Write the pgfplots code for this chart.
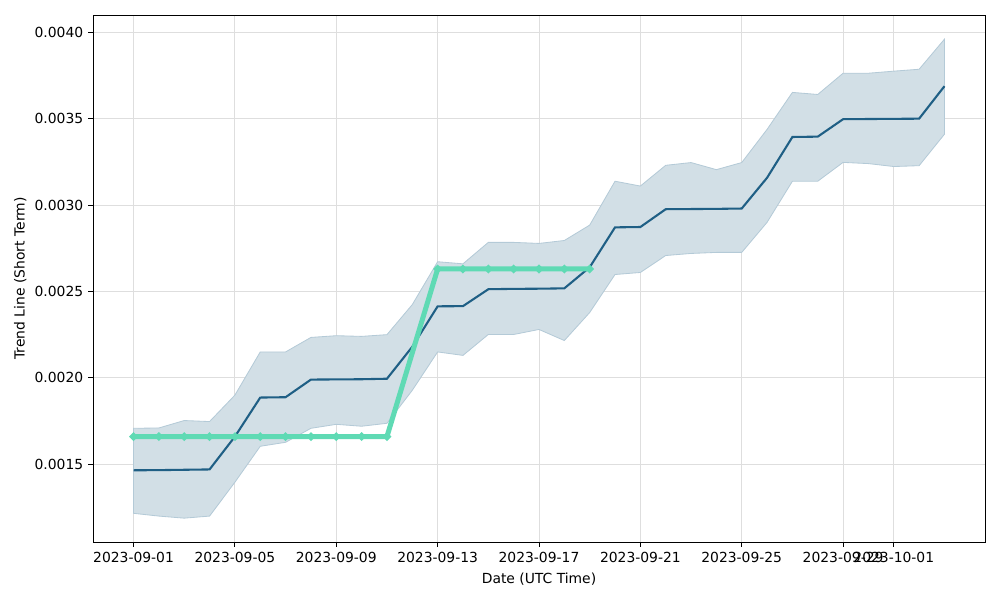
\documentclass[border=0pt]{standalone}
\usepackage{pgfplots}
\pgfplotsset{compat=1.18}
\usepackage{pgfplotstable}
\usepackage{fontspec}
\setmainfont{DejaVu Sans}
\definecolor{trend}{RGB}{31,95,133}
\definecolor{band}{RGB}{210,223,230}
\definecolor{bandedge}{RGB}{180,202,215}
\definecolor{tgreen}{RGB}{95,218,180}
\definecolor{gridc}{RGB}{222,222,222}

\pgfplotstableread{
d mid
0 0.001465
1 0.001466
2 0.001468
3 0.001470
4 0.001660
5 0.001886
6 0.001888
7 0.001990
8 0.001991
9 0.001992
10 0.001995
11 0.002180
12 0.002414
13 0.002415
14 0.002513
15 0.002515
16 0.002516
17 0.002518
18 0.002640
19 0.002871
20 0.002873
21 0.002976
22 0.002977
23 0.002978
24 0.002980
25 0.003158
26 0.003394
27 0.003396
28 0.003497
29 0.003498
30 0.003499
31 0.003500
32 0.003688
}\trendtable

% band: upper edge forward, lower edge backward
\pgfplotstableread{
d b
0 0.001708
1 0.001710
2 0.001753
3 0.001747
4 0.001900
5 0.002150
6 0.002150
7 0.002234
8 0.002244
9 0.002240
10 0.002250
11 0.002424
12 0.002672
13 0.002660
14 0.002784
15 0.002784
16 0.002778
17 0.002795
18 0.002884
19 0.003138
20 0.003110
21 0.003230
22 0.003246
23 0.003205
24 0.003246
25 0.003438
26 0.003652
27 0.003640
28 0.003763
29 0.003763
30 0.003775
31 0.003786
32 0.003960
32 0.003410
31 0.003228
30 0.003223
29 0.003240
28 0.003247
27 0.003138
26 0.003138
25 0.002900
24 0.002726
23 0.002726
22 0.002720
21 0.002708
20 0.002610
19 0.002598
18 0.002378
17 0.002216
16 0.002280
15 0.002251
14 0.002251
13 0.002130
12 0.002150
11 0.001928
10 0.001737
9 0.001720
8 0.001731
7 0.001708
6 0.001627
5 0.001604
4 0.001396
3 0.001200
2 0.001188
1 0.001200
0 0.001216
}\bandtable

\pgfplotstableread{
d g
0 0.00166
1 0.00166
2 0.00166
3 0.00166
4 0.00166
5 0.00166
6 0.00166
7 0.00166
8 0.00166
9 0.00166
10 0.00166
12 0.00263
13 0.00263
14 0.00263
15 0.00263
16 0.00263
17 0.00263
18 0.00263
}\greentable

\begin{document}
\fontsize{10}{12}\selectfont
\begin{tikzpicture}
\useasboundingbox (-66.96pt,-41.76pt) rectangle (653.04pt,390.24pt);
\begin{axis}[
  at={(0,0)}, anchor=south west,
  scale only axis,
  width=642.24pt, height=379.44pt,
  xmin=-1.6, xmax=33.6,
  ymin=0.00105, ymax=0.0041,
  xtick={0,4,8,12,16,20,24,28,30},
  xticklabels={2023-09-01,2023-09-05,2023-09-09,2023-09-13,2023-09-17,2023-09-21,2023-09-25,2023-09-29,2023-10-01},
  ytick={0.0015,0.0020,0.0025,0.0030,0.0035,0.0040},
  scaled y ticks=false,
  yticklabel style={/pgf/number format/.cd,fixed,fixed zerofill,precision=4},
  /pgf/number format/assume math mode=true,
  tick label style={font=\fontsize{10}{12}\selectfont},
  label style={font=\fontsize{10}{12}\selectfont},
  xlabel={Date (UTC Time)},
  ylabel={Trend Line (Short Term)},
  xlabel style={yshift=-1pt},
  ylabel style={yshift=-1pt},
  tick align=outside,
  xtick pos=bottom, ytick pos=left,
  major tick length=3.5pt,
  tick style={black, line width=0.6pt},
  grid=major,
  major grid style={gridc, line width=0.6pt},
  axis line style={line width=0.6pt},
]
\addplot[fill=band, draw=bandedge, line width=0.6pt] table[x=d,y=b]{\bandtable} -- cycle;
\addplot[trend, line width=1.5pt, mark=none] table[x=d,y=mid]{\trendtable};
\addplot[tgreen, line width=3.6pt, mark=*, mark size=0.7pt, mark options={fill=tgreen!90!black, draw=none}] table[x=d,y=g]{\greentable};
\end{axis}
\end{tikzpicture}
\end{document}
